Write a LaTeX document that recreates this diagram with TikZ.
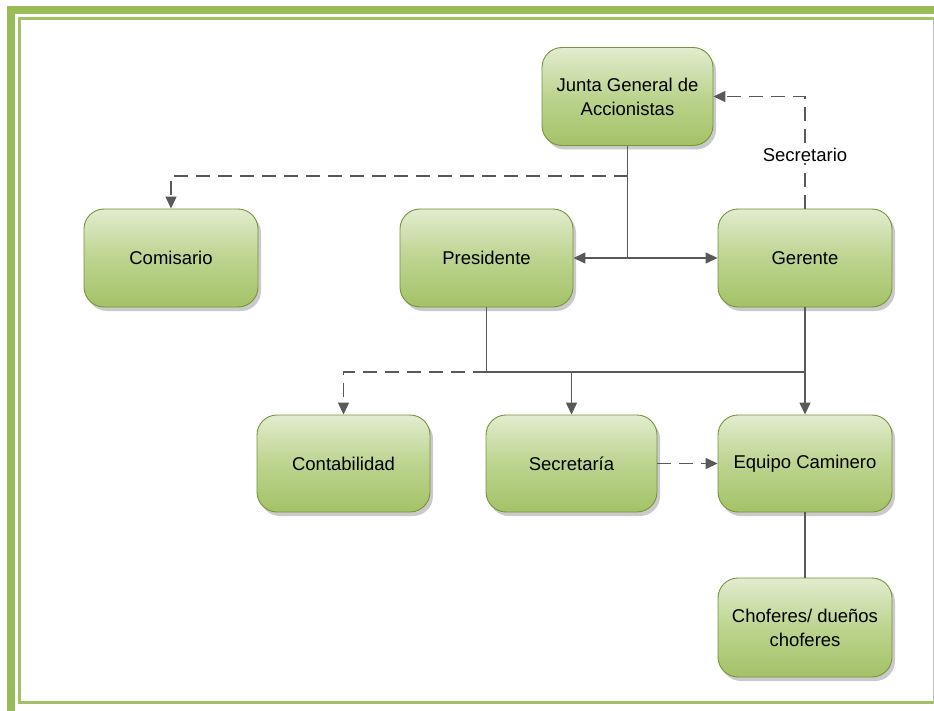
\documentclass[tikz,border=0pt]{standalone}
\usepackage{fontspec}
\setmainfont{Liberation Sans}
\usetikzlibrary{arrows.meta,shadows}
\definecolor{frameg}{HTML}{9BBB59}
\definecolor{thing}{HTML}{A3C266}
\definecolor{boxedge}{HTML}{76933C}
\definecolor{boxtop}{HTML}{E2ECCF}
\definecolor{boxmid}{HTML}{BCD48F}
\definecolor{boxbot}{HTML}{A4C267}
\definecolor{conng}{HTML}{595959}
\tikzset{
  orgbox/.style={draw=boxedge, line width=0.9pt, rounded corners=20pt,
    top color=boxtop, bottom color=boxbot, middle color=boxmid,
    minimum width=173pt, minimum height=98pt, inner sep=2pt, align=center,
    font=\fontsize{18.5}{24}\selectfont, text=black,
    drop shadow={shadow xshift=3pt, shadow yshift=-4pt, fill=black!35, opacity=0.6}},
  conn/.style={draw=conng, line width=1.4pt},
  arr/.style={-{Triangle[length=12pt,width=11pt]}},
  darr/.style={{Triangle[length=12pt,width=11pt]}-{Triangle[length=12pt,width=11pt]}},
  dconn/.style={conn, dash pattern=on 14pt off 8pt},
  lbl/.style={fill=white, inner sep=1pt, font=\fontsize{18.5}{22}\selectfont, text=black}
}
\begin{document}
\begin{tikzpicture}[x=1pt,y=-1pt]
\useasboundingbox (0,0) rectangle (934,711);
% frame
\draw[frameg, line width=8pt] (11,10) rectangle (950,715);
\draw[thing, line width=2.8pt] (19.3,18.5) rectangle (950,702.5);
\draw[black!25, line width=0.8pt] (933,20) -- (933,701);
% nodes
\node[orgbox, minimum width=171pt] (junta) at (627.5,96.5) {Junta General de\\Accionistas};
\node[orgbox, minimum width=174pt] (comisario) at (171,258) {Comisario};
\node[orgbox] (presidente) at (486.5,258) {Presidente};
\node[orgbox, minimum width=174pt] (gerente) at (805,258) {Gerente};
\node[orgbox, minimum height=97pt] (contab) at (343.5,463.5) {Contabilidad};
\node[orgbox, minimum width=171pt, minimum height=97pt] (secret) at (571.5,463.5) {Secretaría};
\node[orgbox, minimum width=174pt, minimum height=97pt] (equipo) at (805,463.5) {Equipo Caminero};
\node[orgbox, minimum width=174pt, minimum height=99pt] (chofer) at (805,627.5) {Choferes/ dueños\\choferes};
% helper coordinates
\coordinate (j1) at (627.5,176);
\coordinate (j2) at (627.5,258);
\coordinate (p1) at (486.5,372);
\coordinate (g1) at (805,372);
\coordinate (s1) at (571.5,372);
% connectors
\draw[conn] (junta.south) -- (j2);
\draw[conn, darr] (presidente.east) -- (gerente.west);
\draw[dconn, arr] (j1) -| (comisario.north);
\draw[dconn, arr] (gerente.north) |- (junta.east);
\node[lbl] (sec) at (805,155) {Secretario};
\draw[conn] (presidente.south) -- (p1) -- (g1);
\draw[conn, arr] (gerente.south) -- (equipo.north);
\draw[conn, arr] (s1) -- (secret.north);
\draw[dconn, arr] (p1) -| (contab.north);
\draw[dconn, arr] (secret.east) -- (equipo.west);
\draw[conn] (equipo.south) -- (chofer.north);
\end{tikzpicture}
\end{document}
